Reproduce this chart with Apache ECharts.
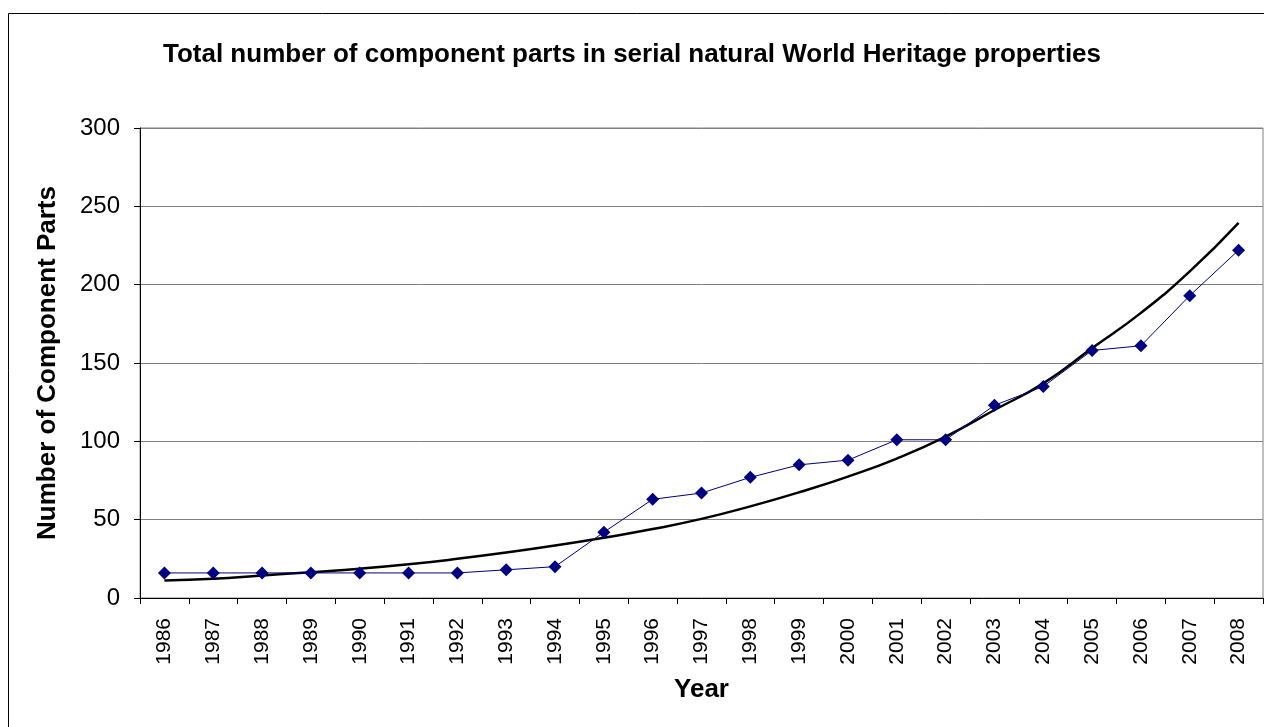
<!DOCTYPE html>
<html style="height: 100%">
	<head>
		<meta charset="utf-8">
	</head>
	<body style="height: 100%; margin: 0; background: #fff">
		<div id="container" style="height: 100%"></div>
		<script src="https://cdn.jsdelivr.net/npm/echarts@6/dist/echarts.min.js" type="text/javascript" charset="utf-8"></script>
		<script type="text/javascript">
			// years on the x axis
			var years = ['1986','1987','1988','1989','1990','1991','1992','1993','1994','1995','1996','1997',
				'1998','1999','2000','2001','2002','2003','2004','2005','2006','2007','2008'];
			// component parts per year (blue line)
			var parts = [16,16,16,16,16,16,16,18,20,42,63,67,77,85,88,101,101,123,135,158,161,193,222];
			// trend line (black line)
			var trend = [11.2,12.3,14.4,16.5,18.7,21.5,25,29,33.5,38.5,44,50.5,58.5,67.5,77.5,89,103,120,137,159.5,182,208.5,239.5];
			var yTicks = [0,50,100,150,200,250,300];

			var font = 'Liberation Sans, Arial, sans-serif';
			var myChart = echarts.init(document.getElementById('container'));
			var option = {
				backgroundColor: '#fff',
				animation: false,
				title: {
					text: 'Total number of component parts in serial natural World Heritage properties',
					left: 'center',
					top: 37,
					textStyle: {
						color: '#000',
						fontFamily: font,
						fontWeight: 'bold',
						fontSize: 26
					}
				},
				graphic: [{
					type: 'rect',
					shape: {x: 8.5, y: 13.5, width: 1300, height: 800},
					style: {fill: 'none', stroke: '#000', lineWidth: 1},
					silent: true
				}],
				grid: {
					left: 140,
					right: 1,
					top: 128,
					bottom: 129,
					show: true,
					borderColor: '#808080',
					borderWidth: 1
				},
				xAxis: {
					type: 'category',
					data: years,
					boundaryGap: true,
					name: 'Year',
					nameLocation: 'middle',
					nameGap: 79,
					nameTextStyle: {color: '#000', fontFamily: font, fontWeight: 'bold', fontSize: 26},
					axisLine: {lineStyle: {color: '#000', width: 1}},
					axisTick: {show: true, length: 6, alignWithLabel: false, lineStyle: {color: '#000'}},
					axisLabel: {rotate: 90, interval: 0, margin: 20, color: '#000', fontFamily: font, fontSize: 21},
					splitLine: {show: false}
				},
				yAxis: {
					type: 'value',
					min: yTicks[0],
					max: yTicks[yTicks.length - 1],
					interval: 50,
					name: 'Number of Component Parts',
					nameLocation: 'middle',
					nameGap: 79,
					nameTextStyle: {color: '#000', fontFamily: font, fontWeight: 'bold', fontSize: 26},
					axisLine: {show: true, lineStyle: {color: '#000', width: 1}},
					axisTick: {show: true, length: 6, lineStyle: {color: '#000'}},
					axisLabel: {margin: 20, color: '#000', fontFamily: font, fontSize: 24},
					splitLine: {show: true, lineStyle: {color: '#808080', width: 1}}
				},
				series: [{
					name: 'trend',
					type: 'line',
					data: trend,
					showSymbol: false,
					smooth: true,
					lineStyle: {color: '#000', width: 2.5},
					z: 2
				}, {
					name: 'parts',
					type: 'line',
					data: parts,
					symbol: 'diamond',
					symbolSize: 13,
					itemStyle: {color: '#000080'},
					lineStyle: {color: '#000080', width: 1},
					z: 3
				}]
			};
			myChart.setOption(option);
		</script>
	</body>
</html>
